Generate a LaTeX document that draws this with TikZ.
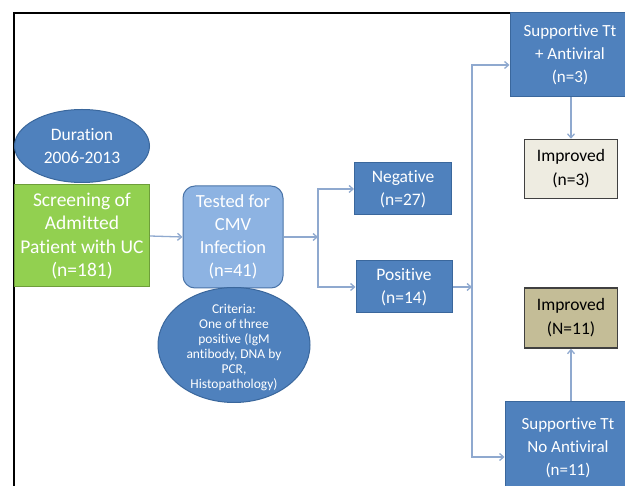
\documentclass[tikz,border=0pt]{standalone}
\usepackage{fontspec}
\setmainfont{Carlito}[Ligatures=NoCommon]
\usetikzlibrary{arrows.meta,shapes.geometric}
\definecolor{bfill}{HTML}{4F81BD}
\definecolor{bdraw}{HTML}{3A679C}
\definecolor{gfill}{HTML}{92D050}
\definecolor{gdraw}{HTML}{6E9E3A}
\definecolor{lbfill}{HTML}{8DB3E2}
\definecolor{lbdraw}{HTML}{4A74A8}
\definecolor{conn}{HTML}{8FA9CF}
\definecolor{beige}{HTML}{EEECE1}
\definecolor{tanfill}{HTML}{C4BD97}
\definecolor{gborder}{HTML}{404040}
\begin{document}
\begin{tikzpicture}[x=1pt,y=-1pt,
  base/.style={align=center,inner sep=0pt,line width=1pt,font=\fontsize{17.5}{23}\selectfont},
  bluebox/.style={base,draw=bdraw,fill=bfill,text=white},
  greenbox/.style={base,draw=gdraw,fill=gfill,text=white,font=\fontsize{19.5}{23.5}\selectfont},
  lbbox/.style={base,draw=lbdraw,fill=lbfill,text=white,rounded corners=12pt,font=\fontsize{18.5}{23}\selectfont},
  impbox/.style={base,draw=gborder,line width=1.5pt,text=black,font=\fontsize{17.5}{24}\selectfont},
  arr/.style={draw=conn,line width=1.3pt,-{Straight Barb[length=4pt,width=7pt]}}]
\clip (0,0) rectangle (625,486);
\useasboundingbox (0,0) rectangle (625,486);
\fill[white] (0,0) rectangle (625,486);
\draw[line width=1.8pt] (14,495) -- (14,13) -- (640,13);

\node[bluebox,ellipse,minimum width=135,minimum height=73] (dur) at (82,146) {Duration\\2006-2013};
\node[greenbox,minimum width=135,minimum height=102] (scr) at (82,236) {Screening of\\Admitted\\Patient with UC\\(n=181)};
\node[lbbox,minimum width=100,minimum height=102] (test) at (233,237) {Tested for\\CMV\\Infection\\(n=41)};
\node[bluebox,ellipse,minimum width=152,minimum height=115] (crit) at (234,345) {};
\node[align=center,text=white,font=\fontsize{13.5}{15}\selectfont] (crittxt) at (234,348) {Criteria:\\One of three\\positive (IgM\\antibody, DNA by\\PCR,\\Histopathology)};
\node[bluebox,minimum width=97,minimum height=52] (neg) at (403,189) {Negative\\(n=27)};
\node[bluebox,minimum width=96,minimum height=52] (pos) at (404,287) {Positive\\(n=14)};
\node[bluebox,minimum width=120,minimum height=84,font=\fontsize{17}{23}\selectfont] (sup1) at (570,55) {Supportive Tt\\+ Antiviral\\(n=3)};
\node[impbox,fill=beige,minimum width=93,minimum height=59] (imp1) at (571,169) {Improved\\(n=3)};
\node[impbox,fill=tanfill,minimum width=93,minimum height=60] (imp2) at (571,318) {Improved\\(N=11)};
\node[bluebox,minimum width=126,minimum height=92,font=\fontsize{17}{23}\selectfont] (sup2) at (568,448) {Supportive Tt\\No Antiviral\\(n=11)};

\coordinate (j1) at (318,237);
\coordinate (j2) at (472,287);
\coordinate (t1) at (472,65);
\coordinate (t2) at (472,457);
\draw[arr] (scr.east) -- (test.west);
\draw[arr] (test.east) -- (j1);
\draw[arr] (j1) |- (neg.west);
\draw[arr] (j1) |- (pos.west);
\draw[arr] (pos.east) -- (j2);
\draw[arr] (j2) -- (t1) -- (t1 -| sup1.west);
\draw[arr] (j2) -- (t2) -- (t2 -| sup2.west);
\draw[arr] (imp1.north |- sup1.south) -- (imp1.north);
\draw[arr] (imp2.south |- sup2.north) -- (imp2.south);
\end{tikzpicture}
\end{document}
